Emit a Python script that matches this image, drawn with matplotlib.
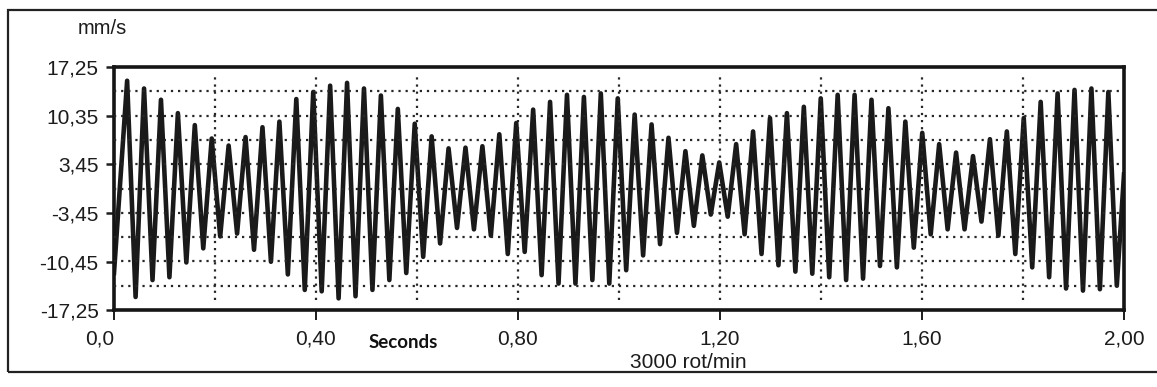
import matplotlib.pyplot as plt
import numpy as np
from matplotlib.patches import Rectangle

plt.rcParams['font.family'] = ['Liberation Sans', 'DejaVu Sans']

# vibration velocity (mm/s), one peak and one trough per revolution
peak_vals = [15.3, 14.2, 12.6, 10.7, 9.0, 7.1, 6.1, 7.3, 8.7, 9.5,
             12.7, 13.7, 14.6, 15.0, 14.2, 13.2, 11.3, 9.2, 7.4, 5.7,
             5.8, 6.0, 7.7, 9.3, 11.2, 12.3, 13.3, 13.0, 13.5, 12.8,
             10.5, 9.1, 7.2, 5.3, 4.7, 3.7, 6.3, 8.1, 10.0, 10.7,
             11.6, 12.8, 13.3, 13.3, 12.6, 11.4, 9.5, 7.9, 6.3, 5.1,
             4.6, 7.0, 8.1, 10.0, 12.3, 13.5, 14.0, 14.2, 13.7]
trough_vals = [-15.4, -13.0, -12.6, -10.5, -8.5, -6.8, -6.4, -8.7, -10.4, -12.2,
               -14.4, -14.6, -15.6, -15.3, -14.4, -13.0, -12.0, -9.7, -7.8, -5.6,
               -5.8, -6.7, -9.3, -9.0, -12.3, -13.5, -13.5, -13.0, -13.5, -11.6,
               -9.5, -7.9, -6.3, -5.3, -3.7, -4.0, -6.5, -9.3, -10.9, -11.8,
               -12.1, -12.6, -13.0, -12.8, -11.0, -11.2, -8.4, -6.5, -5.8, -5.8,
               -4.7, -6.7, -9.3, -11.2, -12.6, -14.2, -14.5, -14.3, -13.8]
start_val = -12.0
end_val = 2.0
first_peak_t = 0.026   # s
period = 0.0335        # s

ytick_vals = [17.25, 10.35, 3.45, -3.45, -10.45, -17.25]
ytick_labels = ['17,25', '10,35', '3,45', '-3,45', '-10,45', '-17,25']
xtick_vals = [0.0, 0.4, 0.8, 1.2, 1.6, 2.0]
xtick_labels = ['0,0', '0,40', '0,80', '1,20', '1,60', '2,00']
hgrid_vals = [13.8, 10.35, 6.9, 3.45, 0.0, -3.45, -6.9, -10.35, -13.8]
vgrid_vals = [0.2, 0.4, 0.6, 0.8, 1.0, 1.2, 1.4, 1.6, 1.8]

# waveform: peak, then trough half a revolution later
t_peak = first_peak_t + period * np.arange(len(peak_vals))
t = np.concatenate([[0.0], np.column_stack([t_peak, t_peak + period / 2]).ravel(), [2.0]])
v = np.concatenate([[start_val], np.column_stack([peak_vals, trough_vals]).ravel(), [end_val]])

W, H = 1157, 387
fig = plt.figure(figsize=(W / 100, H / 100), dpi=100)

# outer frame of the printout
fig.patches.append(Rectangle((8 / W, 1 - 372 / H), 1.2, (372 - 10) / H,
                             transform=fig.transFigure, fill=False,
                             lw=1.6, ec='#222222'))

ax = fig.add_axes([114 / W, 1 - 310 / H, (1124 - 114) / W, (310 - 67) / H])
ax.set_xlim(0, 2.0)
ax.set_ylim(-17.25, 17.25)

dots = (0, (1, 2.2))
ax.hlines(hgrid_vals, 0, 2.0, colors='#262626', linestyles=dots, lw=1.6, zorder=3)
ax.vlines(vgrid_vals, -15.9, 15.9, colors='#262626', linestyles=dots, lw=1.6, zorder=3)

ax.plot(t, v, color='#1a1a1a', lw=3.3, solid_joinstyle='round', zorder=2)

for s in ax.spines.values():
    s.set_linewidth(2.6)
    s.set_color('#151515')

ax.set_yticks(ytick_vals)
ax.set_yticklabels(ytick_labels)
ax.set_xticks(xtick_vals)
ax.set_xticklabels(xtick_labels)
ax.get_xticklabels()[0].set_ha('right')
ax.tick_params(axis='y', direction='out', length=6, width=1.8, pad=5,
               labelsize=15, colors='#1c1c1c')
ax.tick_params(axis='x', direction='out', length=7, width=1.4, pad=7,
               labelsize=15, colors='#1c1c1c')

fig.text(102 / W, 1 - 28 / H, 'mm/s', ha='center', va='center', fontsize=14.5,
         color='#1c1c1c')
fig.text(403 / W, 1 - 343 / H, 'Seconds', ha='center', va='center',
         fontsize=13.5, fontweight='bold', family=['Lato', 'DejaVu Sans'],
         color='#111111')
fig.text(688 / W, 1 - 362 / H, '3000 rot/min', ha='center', va='center',
         fontsize=15, color='#1c1c1c')

fig.savefig('out.png', dpi=100)
